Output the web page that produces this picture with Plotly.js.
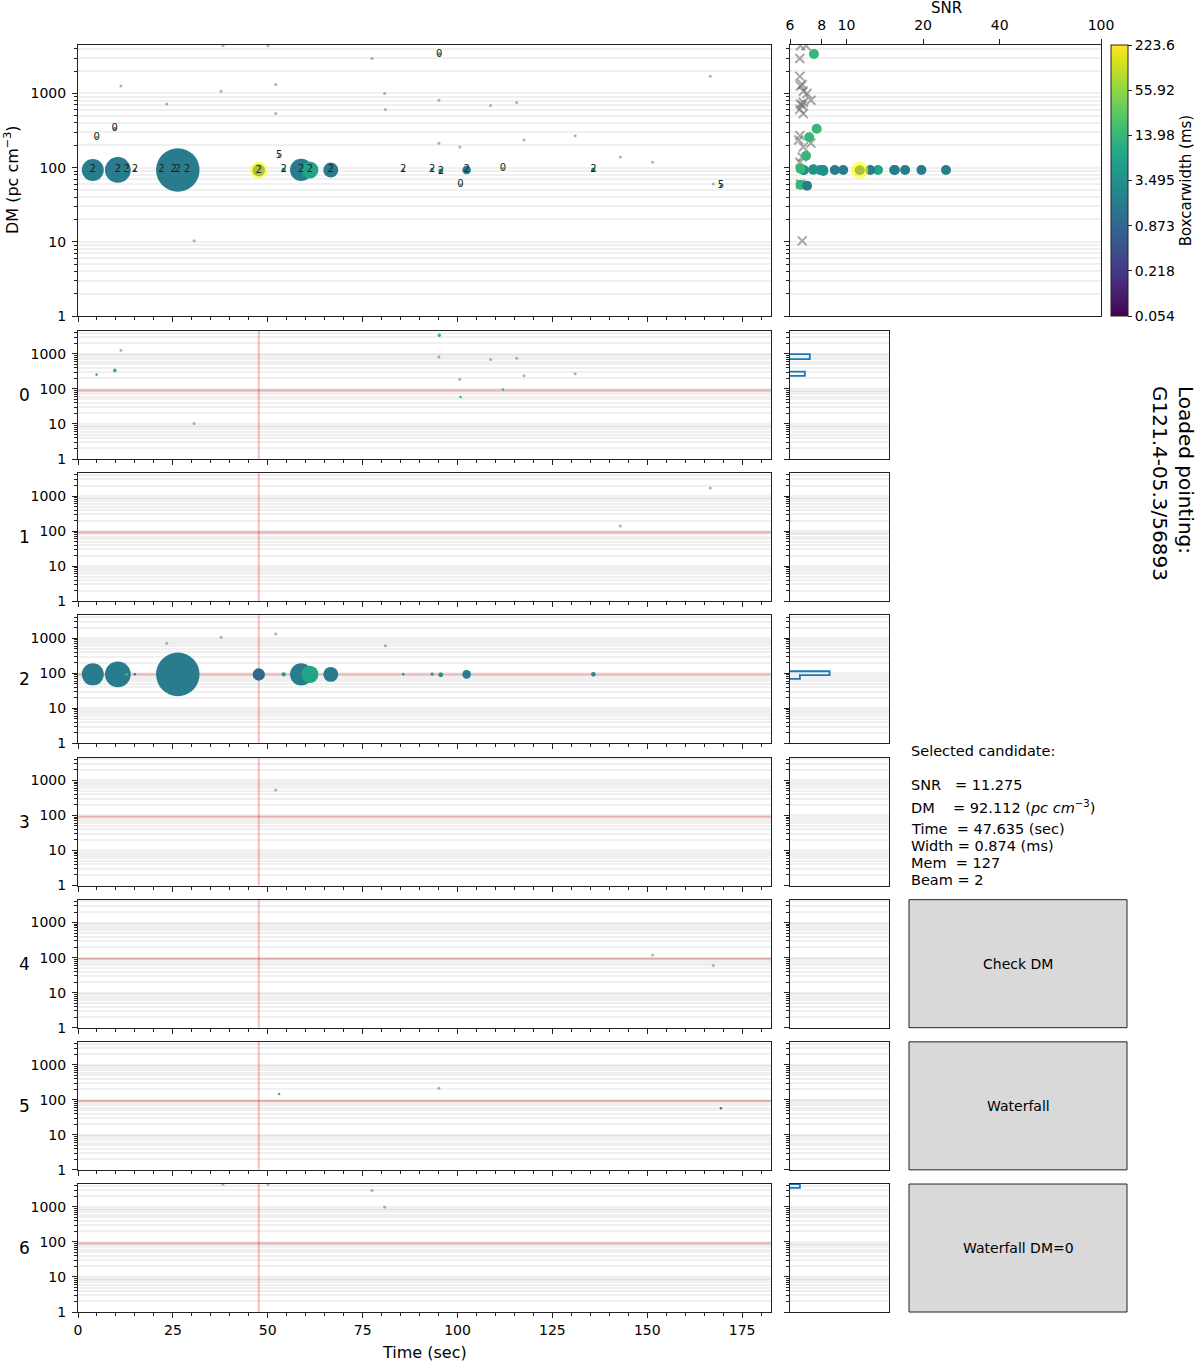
<!DOCTYPE html>
<html>
<head>
<meta charset="utf-8">
<script src="https://cdn.plot.ly/plotly-3.0.1.min.js"></script>
<style>html,body{margin:0;padding:0;background:#fff}</style>
</head>
<body>
<div id="chart" style="width:1200px;height:1362px"></div>
<script>
// candidates above threshold, coloured by boxcar width (ms)
const candTime  = [3.9, 4.9, 9.7, 10.5, 12.8, 15.0, 22.0, 25.2, 28.8, 26.3, 47.635, 53.0, 54.2, 58.8, 61.1, 66.6, 85.7, 93.3, 95.2, 95.6, 100.8, 102.4, 112.0, 135.8, 169.4];
const candDM    = [93, 257, 335, 93, 93, 93, 93, 93, 93, 93, 92.112, 145, 93, 93, 93, 93, 93, 95, 3400, 90, 59, 93, 97, 93, 57];
const candSNR   = [15.4, 7.14, 7.64, 17.0, 7.4, 6.8, 8.1, 19.7, 9.0, 24.6, 11.275, 6.94, 7.87, 15.5, 13.3, 12.4, 6.77, 7.41, 7.45, 8.11, 6.6, 9.71, 6.6, 8.0, 7.0];
const candWidth = [1.747, 13.98, 13.98, 1.747, 13.98, 1.747, 1.747, 1.747, 1.747, 1.747, 0.874, 13.98, 6.99, 1.747, 6.99, 1.747, 3.495, 3.495, 13.98, 3.495, 13.98, 1.747, 13.98, 3.495, 1.747];
const candBeam  = [2, 0, 0, 2, 2, 2, 2, 2, 2, 2, 2, 5, 2, 2, 2, 2, 2, 2, 0, 2, 0, 2, 0, 2, 5];

// low significance candidates (grey)
const greyTime = [38.2, 50.1, 77.5, 80.8, 166.6, 52.1, 11.3, 37.7, 95.1, 115.6, 23.4, 108.7, 81.0, 52.1, 131.0, 117.5, 95.1, 100.6, 142.9, 151.4, 167.4, 30.6];
const greyDM   = [4400, 4400, 2960, 1000, 1700, 1320, 1260, 1070, 810, 755, 720, 690, 610, 535, 270, 236, 214, 190, 139, 118, 60, 10.3];
const greySNR  = [6.94, 6.6, 6.56, 7.0, 6.56, 6.7, 6.6, 6.77, 7.25, 6.77, 6.6, 6.7, 6.56, 6.77, 6.56, 6.5, 7.25, 6.77, 6.7, 6.56, 6.6, 6.7];
const greyBeam = [6, 6, 6, 6, 1, 2, 0, 2, 0, 0, 2, 0, 2, 3, 0, 0, 5, 0, 1, 4, 4, 0];

// selected candidate
const selTime = 47.635, selDM = 92.112, selSNR = 11.275, selWidth = 0.874, selMem = 127, selBeam = 2;

// side histograms of DM per beam
const histBeam  = [0, 0, 2, 2, 6];
const histLo    = [235, 706, 69, 88, 3490];
const histHi    = [312, 980, 88, 114, 4500];
const histCount = [3, 4, 2, 8, 2];

const beams = [0, 1, 2, 3, 4, 5, 6];
const timeTicks = [0, 25, 50, 75, 100, 125, 150, 175];
const dmTicks = [1, 10, 100, 1000];
const snrTicks = [6, 8, 10, 20, 40, 100];
const cbTicks = [0.0546, 0.2184, 0.8736, 3.4945, 13.978, 55.92, 223.6];
const cbTickText = ['0.054', '0.218', '0.873', '3.495', '13.98', '55.92', '223.6'];
const buttonLabels = ['Check DM', 'Waterfall', 'Waterfall DM=0'];
const pointing = 'G121.4-05.3/56893';

const tMax = 182.6, dmTop = 4500, histMax = 20;
const FONT = '"DejaVu Sans", Verdana, sans-serif';
const W = 1200, H = 1362;
const px = v => v / W;
const py = v => 1 - v / H;
const gridCol = 'rgba(0,0,0,0.06)';
const lineCol = '#222';

const cVal = w => Math.log2(w / cbTicks[0]);
const sizeOf = s => Math.max(2.5, 2.34 * (s - 6));

const dmMinor = [];
for (let e = 0; e < 4; e++) {
    for (let m = 2; m <= 9; m++) {
        const v = m * Math.pow(10, e);
        if (v < dmTop) dmMinor.push(v);
    }
}

function dmAxis(domain, anchor, labels) {
    return {
        type: 'log', range: [0, Math.log10(dmTop)], domain: domain, anchor: anchor,
        tickmode: 'array', tickvals: dmTicks, ticktext: dmTicks.map(String),
        showticklabels: labels, ticks: 'outside', ticklen: 5, tickwidth: 1, tickcolor: lineCol,
        ticklabelstandoff: 3,
        showgrid: true, gridcolor: gridCol, gridwidth: 2,
        minor: { tickmode: 'array', tickvals: dmMinor, ticks: 'outside', ticklen: 3, tickcolor: lineCol,
                 showgrid: true, gridcolor: gridCol, gridwidth: 2 },
        showline: true, linecolor: lineCol, linewidth: 1, mirror: true,
        zeroline: false, fixedrange: true, tickfont: { size: 14, color: '#000' }
    };
}

function timeAxis(domain, anchor, labels) {
    return {
        range: [0, tMax], domain: domain, anchor: anchor,
        tickmode: 'array', tickvals: timeTicks, showticklabels: labels,
        ticks: 'outside', ticklen: 5, tickcolor: lineCol,
        minor: { dtick: 5, tick0: 0, ticks: 'outside', ticklen: 3, tickcolor: lineCol },
        showgrid: false, zeroline: false,
        showline: true, linecolor: lineCol, linewidth: 1, mirror: true,
        fixedrange: true, tickfont: { size: 14, color: '#000' }
    };
}

function note(text, x, y, extra) {
    return Object.assign({ text: text, xref: 'paper', yref: 'paper', x: px(x), y: py(y),
        xanchor: 'center', yanchor: 'middle', showarrow: false, font: { size: 14 } }, extra || {});
}

const traces = [];
const layout = {
    width: W, height: H,
    margin: { l: 0, r: 0, t: 0, b: 0 },
    paper_bgcolor: '#ffffff', plot_bgcolor: '#ffffff',
    showlegend: false, hovermode: false,
    font: { family: FONT, size: 14, color: '#000' },
    coloraxis: {
        colorscale: 'Viridis', cmin: 0, cmax: cVal(cbTicks[cbTicks.length - 1]),
        colorbar: {
            x: px(1111), xanchor: 'left', xpad: 0,
            y: py(45), yanchor: 'top', ypad: 0,
            len: 271, lenmode: 'pixels', thickness: 17,
            outlinewidth: 1, outlinecolor: lineCol,
            tickmode: 'array', tickvals: cbTicks.map(cVal), ticktext: cbTickText,
            ticks: 'outside', ticklen: 4, tickcolor: lineCol,
            tickfont: { size: 14, color: '#000' },
            title: { text: 'Boxcarwidth (ms)', side: 'right', font: { size: 15 } }
        }
    },
    shapes: [],
    annotations: []
};

const cColors = candWidth.map(cVal);
const cSizes = candSNR.map(sizeOf);

// main DM vs time panel
layout.xaxis = timeAxis([px(78), px(771)], 'y', false);
layout.yaxis = dmAxis([py(316), py(45)], 'x', true);
traces.push({
    x: greyTime, y: greyDM, xaxis: 'x', yaxis: 'y', type: 'scatter', mode: 'markers',
    marker: { size: 3, color: 'rgba(100,100,100,0.5)' }
});
traces.push({
    x: candTime, y: candDM, xaxis: 'x', yaxis: 'y', type: 'scatter', mode: 'markers',
    marker: { size: cSizes, color: cColors, coloraxis: 'coloraxis', opacity: 1, line: { width: 0 } }
});
traces.push({
    x: [selTime], y: [selDM], xaxis: 'x', yaxis: 'y', type: 'scatter', mode: 'markers',
    marker: { size: 17, color: 'rgba(255,255,0,0.6)', line: { width: 0 } }
});
traces.push({
    x: candTime, y: candDM, xaxis: 'x', yaxis: 'y', type: 'scatter', mode: 'text',
    text: candBeam.map(String), textposition: 'middle center',
    textfont: { family: FONT, size: 10, color: '#222' }
});

// SNR panel
layout.xaxis2 = {
    type: 'log', range: [Math.log10(6), 2], domain: [px(790), px(1101)], anchor: 'y2', side: 'top',
    tickmode: 'array', tickvals: snrTicks, ticktext: snrTicks.map(String),
    ticks: 'outside', ticklen: 5, tickcolor: lineCol, ticklabelstandoff: 3,
    showgrid: false, zeroline: false,
    showline: true, linecolor: lineCol, linewidth: 1, mirror: true,
    fixedrange: true, tickfont: { size: 14, color: '#000' }
};
layout.yaxis2 = dmAxis([py(316), py(45)], 'x2', false);
traces.push({
    x: greySNR, y: greyDM, xaxis: 'x2', yaxis: 'y2', type: 'scatter', mode: 'markers',
    marker: { symbol: 'x-thin', size: 9, line: { width: 2, color: 'rgba(110,110,110,0.6)' } }
});
traces.push({
    x: candSNR, y: candDM, xaxis: 'x2', yaxis: 'y2', type: 'scatter', mode: 'markers',
    marker: { size: 10, color: cColors, coloraxis: 'coloraxis', opacity: 1, line: { width: 0 } }
});
traces.push({
    x: [selSNR], y: [selDM], xaxis: 'x2', yaxis: 'y2', type: 'scatter', mode: 'markers',
    marker: { size: 17, color: 'rgba(255,255,0,0.6)', line: { width: 0 } }
});

// per-beam panels
beams.forEach(function (b, k) {
    const top = 331 + 142.17 * k, bottom = top + 128;
    const n = 3 + k, s = 10 + k;
    layout['xaxis' + n] = timeAxis([px(78), px(771)], 'y' + n, k === beams.length - 1);
    layout['yaxis' + n] = dmAxis([py(bottom), py(top)], 'x' + n, true);

    const gi = greyBeam.map((v, i) => v === b ? i : -1).filter(i => i >= 0);
    const ci = candBeam.map((v, i) => v === b ? i : -1).filter(i => i >= 0);
    traces.push({
        x: gi.map(i => greyTime[i]), y: gi.map(i => greyDM[i]),
        xaxis: 'x' + n, yaxis: 'y' + n, type: 'scatter', mode: 'markers',
        marker: { size: 3, color: 'rgba(100,100,100,0.5)' }
    });
    traces.push({
        x: ci.map(i => candTime[i]), y: ci.map(i => candDM[i]),
        xaxis: 'x' + n, yaxis: 'y' + n, type: 'scatter', mode: 'markers',
        marker: { size: ci.map(i => cSizes[i]), color: ci.map(i => cColors[i]),
                  coloraxis: 'coloraxis', opacity: 1, line: { width: 0 } }
    });

    // crosshair at selected candidate
    layout.shapes.push({ type: 'line', layer: 'below', xref: 'x' + n, yref: 'y' + n + ' domain',
        x0: selTime, x1: selTime, y0: 0, y1: 1, line: { color: 'rgba(235,0,0,0.25)', width: 2 } });
    layout.shapes.push({ type: 'line', layer: 'below', xref: 'x' + n + ' domain', yref: 'y' + n,
        x0: 0, x1: 1, y0: selDM, y1: selDM, line: { color: 'rgba(235,0,0,0.25)', width: 2 } });

    // side histogram
    layout['xaxis' + s] = {
        range: [0, histMax], domain: [px(790), px(889)], anchor: 'y' + s,
        showticklabels: false, ticks: '', showgrid: false, zeroline: false,
        showline: true, linecolor: lineCol, linewidth: 1, mirror: true, fixedrange: true
    };
    layout['yaxis' + s] = dmAxis([py(bottom), py(top)], 'x' + s, false);
    const hi = histBeam.map((v, i) => v === b ? i : -1).filter(i => i >= 0)
        .sort((a, c) => histLo[a] - histLo[c]);
    const hx = [], hy = [];
    hi.forEach(function (i, j) {
        const contiguous = j > 0 && Math.abs(histLo[i] - histHi[hi[j - 1]]) < 1e-9;
        if (!contiguous) {
            if (j > 0) { hx.push(0, null); hy.push(histHi[hi[j - 1]], null); }
            hx.push(0); hy.push(histLo[i]);
        }
        hx.push(histCount[i], histCount[i]);
        hy.push(histLo[i], histHi[i]);
        if (j === hi.length - 1) { hx.push(0); hy.push(histHi[i]); }
    });
    traces.push({
        x: hx.length ? hx : [null], y: hy.length ? hy : [null],
        xaxis: 'x' + s, yaxis: 'y' + s, type: 'scatter', mode: 'lines',
        line: { color: '#1f77b4', width: 1.8 }
    });

    layout.annotations.push(note(String(b), 24, (top + bottom) / 2, { font: { size: 17 } }));
});

// buttons
buttonLabels.forEach(function (lab, j) {
    const k = 4 + j;
    const top = 331 + 142.17 * k, bottom = top + 128;
    layout.shapes.push({ type: 'rect', xref: 'paper', yref: 'paper',
        x0: px(909), x1: px(1127), y0: py(bottom), y1: py(top),
        fillcolor: '#d9d9d9', line: { color: lineCol, width: 1 } });
    layout.annotations.push(note(lab, 1018, (top + bottom) / 2));
});

// titles and text
const nb = '\u00a0';
const infoLines = [
    ['Selected candidate:', 751],
    ['SNR' + nb.repeat(3) + '= ' + selSNR.toFixed(3), 785],
    ['DM' + nb.repeat(4) + '= ' + selDM.toFixed(3) + ' (<i>pc' + nb + 'cm</i><sup>\u22123</sup>)', 807],
    ['Time' + nb.repeat(2) + '= ' + selTime.toFixed(3) + ' (sec)', 829],
    ['Width = ' + selWidth.toFixed(3) + ' (ms)', 846],
    ['Mem' + nb.repeat(2) + '= ' + selMem, 863],
    ['Beam = ' + selBeam, 880]
];
infoLines.forEach(function (l) {
    layout.annotations.push(note(l[0], 909, l[1], { xanchor: 'left', font: { size: 14.5 } }));
});

layout.annotations.push(
    note('DM (pc cm<sup>\u22123</sup>)', 11, 180, { textangle: -90, font: { size: 16 } }),
    note('Time (sec)', 424, 1352, { font: { size: 16 } }),
    note('SNR', 946, 8, { font: { size: 15 } }),
    note('Loaded pointing:<br>' + pointing, 1173, 483, { textangle: 90, align: 'left', font: { size: 20 } })
);

Plotly.newPlot('chart', traces, layout, { staticPlot: true, displayModeBar: false });
</script>
</body>
</html>
